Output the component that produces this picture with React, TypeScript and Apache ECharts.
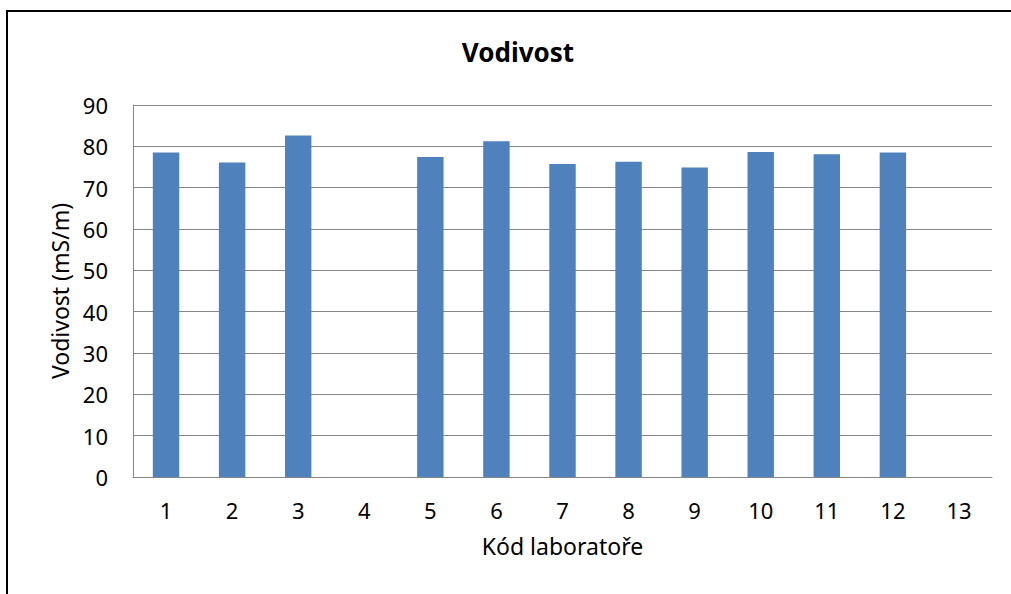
import React, { useEffect, useRef } from "react";
import * as echarts from "echarts";

const categories = ["1", "2", "3", "4", "5", "6", "7", "8", "9", "10", "11", "12", "13"];
const values: (number | null)[] = [78.5, 76.1, 82.6, null, 77.4, 81.2, 75.7, 76.3, 74.9, 78.6, 78.1, 78.5, null];
const yTicks = { min: 0, max: 90, interval: 10 };
const titleText = "Vodivost";
const xName = "Kód laboratoře";
const yName = "Vodivost (mS/m)";

const FONT = "'Noto Sans', sans-serif";

export default function App() {
  const ref = useRef<HTMLDivElement>(null);
  useEffect(() => {
    if (!ref.current) return;
    const chart = echarts.init(ref.current, undefined, { renderer: "svg" });
    chart.setOption({
      animation: false,
      backgroundColor: "#fff",
      title: {
        text: titleText,
        left: 513,
        top: 34,
        textAlign: "center",
        textStyle: { fontFamily: FONT, fontSize: 26, fontWeight: "bold", color: "#000" },
      },
      graphic: [
        {
          type: "rect",
          shape: { x: 7, y: 11, width: 1100, height: 700 },
          style: { fill: "none", stroke: "#000", lineWidth: 2 },
          silent: true,
        },
      ],
      grid: { left: 133, right: 19, top: 105, bottom: 117, containLabel: false },
      xAxis: {
        type: "category",
        data: categories,
        name: xName,
        nameLocation: "middle",
        nameGap: 57,
        nameTextStyle: { fontFamily: FONT, fontSize: 23, color: "#000" },
        axisLine: { lineStyle: { color: "#868686", width: 1 } },
        axisTick: { show: false },
        axisLabel: { fontFamily: FONT, fontSize: 22, color: "#000", margin: 22 },
      },
      yAxis: {
        type: "value",
        min: yTicks.min,
        max: yTicks.max,
        interval: yTicks.interval,
        name: yName,
        nameLocation: "middle",
        nameGap: 60,
        nameTextStyle: { fontFamily: FONT, fontSize: 23, color: "#000" },
        axisLine: { show: true, lineStyle: { color: "#868686", width: 1 } },
        axisTick: { show: false },
        axisLabel: { fontFamily: FONT, fontSize: 22, color: "#000", margin: 25 },
        splitLine: { lineStyle: { color: "#868686", width: 1 } },
      },
      series: [
        {
          type: "bar",
          data: values,
          barWidth: "40%",
          itemStyle: { color: "#4F81BD" },
        },
      ],
    });
    return () => chart.dispose();
  }, []);
  return <div ref={ref} style={{ position: "fixed", left: 0, top: 0, width: 1011, height: 594 }} />;
}
